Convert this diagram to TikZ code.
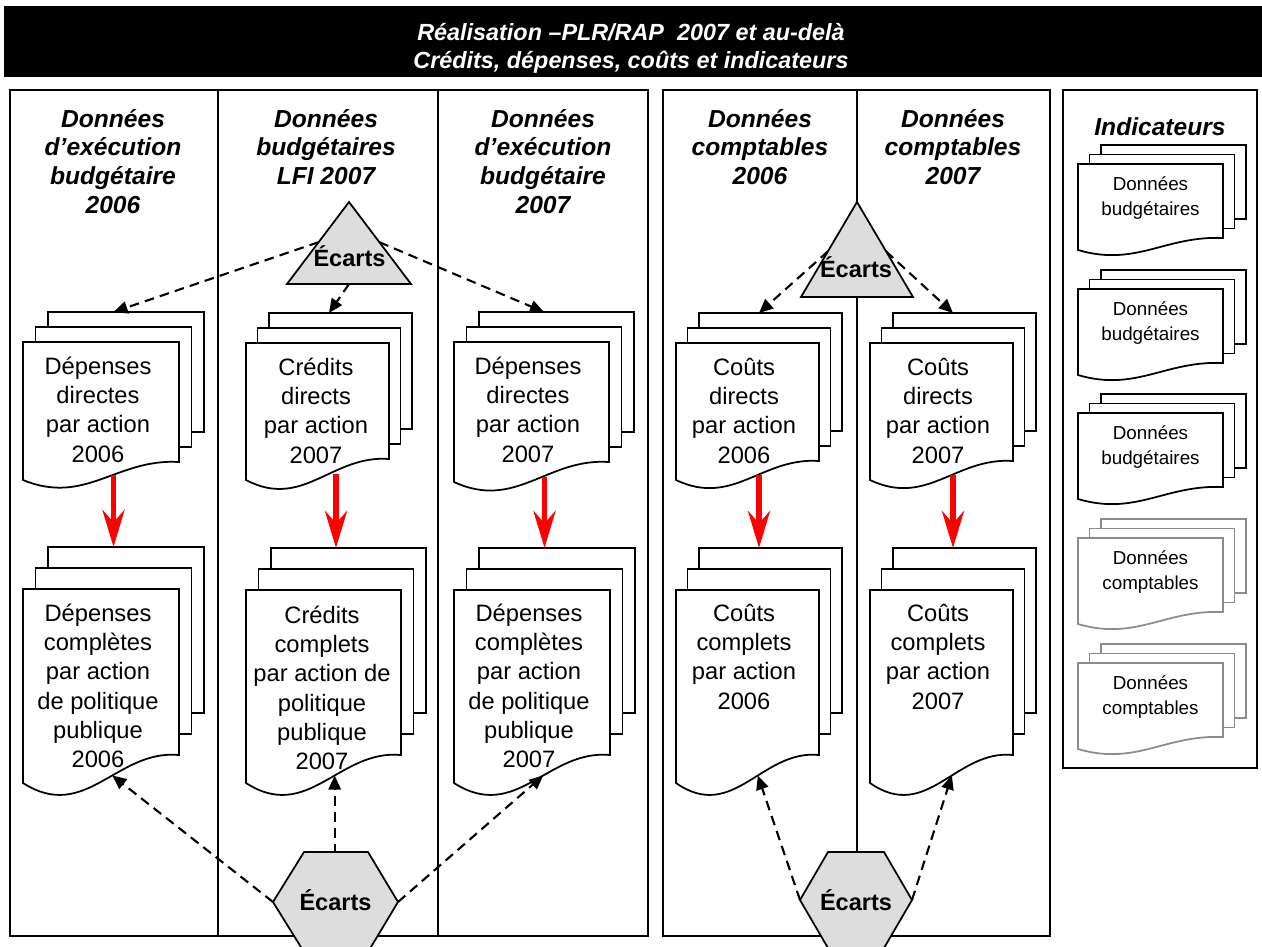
\documentclass[tikz,border=0pt]{standalone}
\usepackage{fontspec}
\setmainfont{Liberation Sans}
\usetikzlibrary{arrows.meta,calc}

\definecolor{shapegray}{HTML}{DDDDDD}
\definecolor{docgray}{HTML}{8C8C8C}
\definecolor{flowred}{HTML}{FF0000}

% A stack of three pages: #1 name, #2 left, #3 top, #4 width,
% #5 height of the left side, #6 rise of the wavy edge, #7/#8 page offset, #9 style
\newcommand\docstack[9]{%
  \path[#9] (#2+2*#7,#3-2*#8) rectangle (#2+#4+2*#7,#3+#5-#6-2*#8);
  \path[#9] (#2+#7,#3-#8) rectangle (#2+#4+#7,#3+#5-#6-#8);
  \path[#9] (#2,#3) -- (#2+#4,#3) -- (#2+#4,#3+#5-#6)
     .. controls (#2+0.6*#4,#3+#5-1.21*#6) and (#2+0.4*#4,#3+#5+1.43*#6) .. (#2,#3+#5)
     coordinate[pos=0.42] (#1-w) -- cycle;
  \coordinate (#1-t) at (#2+#7+0.5*#4,#3-2*#8);
}

\tikzset{
  frame/.style={draw=black, line width=1.1pt},
  page/.style={draw=black, fill=white, line width=1pt},
  greypage/.style={draw=docgray, fill=white, line width=1pt},
  % the node hangs from its top edge, with a fixed first-line height
  firstline/.style={anchor=north, yshift=#1, execute at begin node={\rule{0pt}{#1}}},
  doctext/.style={align=center, inner sep=0pt, firstline=14pt, font=\fontsize{13.5}{16.7}\selectfont},
  indtext/.style={align=center, inner sep=0pt, firstline=11pt, font=\fontsize{10.7}{14.2}\selectfont},
  headtext/.style={align=center, inner sep=0pt, firstline=15pt, font=\fontsize{14}{16.4}\selectfont\bfseries\itshape},
  titletext/.style={align=center, inner sep=0pt, text=white, font=\fontsize{13.3}{15.9}\selectfont\bfseries\itshape},
  gaptext/.style={inner sep=0pt, anchor=base, font=\fontsize{13.4}{16}\selectfont\bfseries},
  gapshape/.style={draw=black, fill=shapegray, line width=1pt, line join=miter},
  redarrow/.style={draw=flowred, line width=3.4pt, -{Stealth[length=21pt, width=12.5pt, inset=7pt]}},
  dasharrow/.style={draw=black, line width=1.2pt, dash pattern=on 5.5pt off 3.5pt, -{Triangle[length=8pt, width=7pt]}},
}

\begin{document}
\begin{tikzpicture}[x=0.02cm, y=-0.02cm]
\clip (0,0) rectangle (1262,947);
\useasboundingbox (0,0) rectangle (1262,947);
\fill[white] (0,0) rectangle (1262,947);

% title band
\fill[black] (4,6) rectangle (1262,77);
\node[titletext] (title) at (631,48) {Réalisation –PLR/RAP~ 2007 et au-delà\\Crédits, dépenses, coûts et indicateurs};

% column frames
\draw[frame] (10,90) rectangle (648,936);
\draw[frame] (218,90) -- (218,936);
\draw[frame] (438,90) -- (438,936);
\draw[frame] (663,90) rectangle (1050,936);
\draw[frame] (857,90) -- (857,936);
\draw[frame] (1063,90) rectangle (1257,768);

% column headings
\node[headtext] (h1) at (113,135) {Données\\d’exécution\\budgétaire\\2006};
\node[headtext] (h2) at (326,135) {Données\\budgétaires\\LFI 2007};
\node[headtext] (h3) at (543,135) {Données\\d’exécution\\budgétaire\\2007};
\node[headtext] (h4) at (760,135) {Données\\comptables\\2006};
\node[headtext] (h5) at (953,135) {Données\\comptables\\2007};
\node[headtext] (h6) at (1160,135) {Indicateurs};

% page stacks
\docstack{c1a}{23}{342}{156}{138}{18}{12.5}{15}{page}
\docstack{c1b}{23}{589}{156}{194}{28}{12.5}{21}{page}
\docstack{c2a}{246}{343}{143}{137}{21}{11.5}{15}{page}
\docstack{c2b}{246}{590}{155}{193}{28}{12.5}{21}{page}
\docstack{c3a}{454}{342}{155}{140}{20}{12.5}{15}{page}
\docstack{c3b}{454}{590}{156}{193}{28}{12.5}{21}{page}
\docstack{c4a}{676}{343}{143}{137}{19}{11.5}{15}{page}
\docstack{c4b}{676}{590}{143}{193}{28}{11.5}{21}{page}
\docstack{c5a}{870}{343}{143}{137}{19}{11.5}{15}{page}
\docstack{c5b}{870}{590}{143}{193}{28}{11.5}{21}{page}

\docstack{i1}{1078}{164}{145}{86}{12}{11.5}{9.5}{page}
\docstack{i2}{1078}{289}{145}{86}{12}{11.5}{9.5}{page}
\docstack{i3}{1078}{413}{145}{86}{12}{11.5}{9.5}{page}
\docstack{i4}{1078}{538}{145}{86}{12}{11.5}{9.5}{greypage}
\docstack{i5}{1078}{663}{145}{86}{12}{11.5}{9.5}{greypage}

% page texts
\node[doctext] (t1a) at (98,381) {Dépenses\\directes\\par action\\2006};
\node[doctext] (t1b) at (98,628) {Dépenses\\complètes\\par action\\de politique\\publique\\2006};
\node[doctext] (t2a) at (316,382) {Crédits\\directs\\par action\\2007};
\node[doctext] (t2b) at (322,630) {Crédits\\complets\\par action de\\politique\\publique\\2007};
\node[doctext] (t3a) at (528,381) {Dépenses\\directes\\par action\\2007};
\node[doctext] (t3b) at (529,628) {Dépenses\\complètes\\par action\\de politique\\publique\\2007};
\node[doctext] (t4a) at (744,382) {Coûts\\directs\\par action\\2006};
\node[doctext] (t4b) at (744,628) {Coûts\\complets\\par action\\2006};
\node[doctext] (t5a) at (938,382) {Coûts\\directs\\par action\\2007};
\node[doctext] (t5b) at (938,628) {Coûts\\complets\\par action\\2007};

\node[indtext] (ti1) at (1150.5,196) {Données\\budgétaires};
\node[indtext] (ti2) at (1150.5,321) {Données\\budgétaires};
\node[indtext] (ti3) at (1150.5,445) {Données\\budgétaires};
\node[indtext] (ti4) at (1150.5,570) {Données\\comptables};
\node[indtext] (ti5) at (1150.5,695) {Données\\comptables};

% direct -> complete
\foreach \c in {1,2,3,4,5}{
  \draw[redarrow] (c\c b-t |- c\c a-w) -- (c\c b-t);
}

% gap shapes: triangles on the budget and cost sides
\coordinate (g1-a) at (349,202);
\coordinate (g1-l) at (287,284);
\coordinate (g1-r) at (411,284);
\coordinate (g2-a) at (857,202);
\coordinate (g2-l) at (801,297);
\coordinate (g2-r) at (913,297);

% gap shapes: hexagons at the bottom
\coordinate (x1-tl) at (304,852); \coordinate (x1-tr) at (368,852);
\coordinate (x1-r) at (398,902);  \coordinate (x1-br) at (368,952);
\coordinate (x1-bl) at (304,952); \coordinate (x1-l) at (273,902);
\coordinate (x2-tl) at (828,852); \coordinate (x2-tr) at (884,852);
\coordinate (x2-r) at (912,900);  \coordinate (x2-br) at (884,948);
\coordinate (x2-bl) at (828,948); \coordinate (x2-l) at (800,900);

% dashed comparisons
\draw[dasharrow] ($(g1-a)!0.49!(g1-l)$) -- (c1a-t);
\draw[dasharrow] ($(g1-l)!0.5!(g1-r)$) -- (c2a-t);
\draw[dasharrow] ($(g1-a)!0.49!(g1-r)$) -- (c3a-t);
\draw[dasharrow] ($(g2-a)!0.52!(g2-l)$) -- (c4a-t);
\draw[dasharrow] ($(g2-a)!0.52!(g2-r)$) -- (c5a-t);
\draw[dasharrow] (x1-l) -- (c1b-w);
\draw[dasharrow] ($(x1-tl)!0.5!(x1-tr)$) -- (c2b-w |- x1-tl) -- (c2b-w);
\draw[dasharrow] (x1-r) -- (c3b-w);
\draw[dasharrow] (x2-l) -- (c4b-w);
\draw[dasharrow] (x2-r) -- (c5b-w);

\draw[gapshape] (g1-a) -- (g1-l) -- (g1-r) -- cycle;
\draw[gapshape] (g2-a) -- (g2-l) -- (g2-r) -- cycle;
\draw[gapshape] (x1-tl) -- (x1-tr) -- (x1-r) -- (x1-br) -- (x1-bl) -- (x1-l) -- cycle;
\draw[gapshape] (x2-tl) -- (x2-tr) -- (x2-r) -- (x2-br) -- (x2-bl) -- (x2-l) -- cycle;

\node[gaptext] (e1) at (349.5,266) {Écarts};
\node[gaptext] (e2) at (856,277) {Écarts};
\node[gaptext] (e3) at (335.5,910) {Écarts};
\node[gaptext] (e4) at (856,910) {Écarts};
\end{tikzpicture}
\end{document}
